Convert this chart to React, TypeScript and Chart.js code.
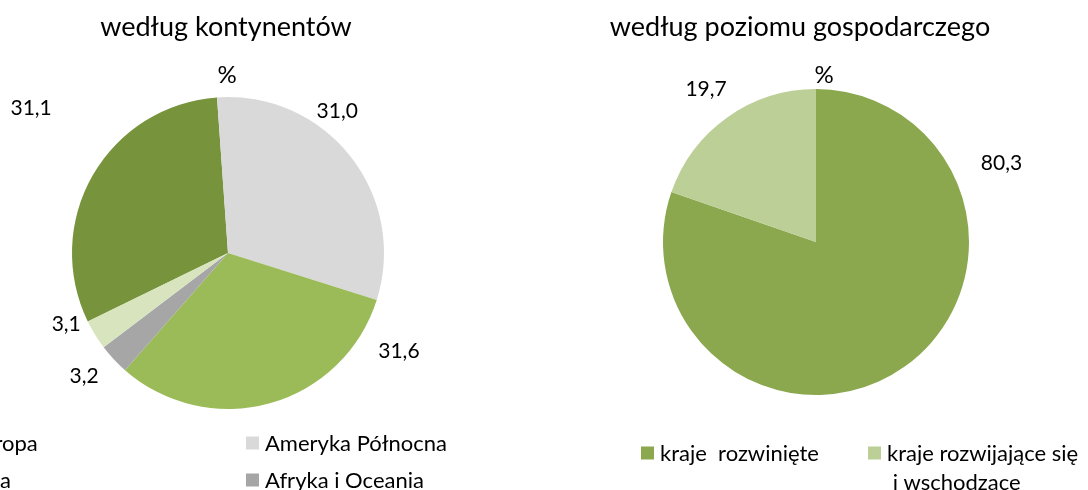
import React, { useEffect, useRef } from "react";
import { Chart, registerables } from "chart.js";

Chart.register(...registerables);

// ---- data ----
const continentLabels = ["Europa", "Ameryka Północna", "Azja", "Afryka i Oceania", "Ameryka Południowa"];
const continentValues = [31.1, 31.0, 31.6, 3.2, 3.1];
const continentColors = ["#77933C", "#D9D9D9", "#9BBB59", "#A6A6A6", "#D7E4BD"];

const economyLabels = ["kraje  rozwinięte", "kraje rozwijające się\n i wschodzace"];
const economyValues = [80.3, 19.7];
const economyColors = ["#8BA84F", "#BBCF97"];

const continentTitle = "według kontynentów";
const economyTitle = "według poziomu gospodarczego";
const unitLabel = "%";

// label placement: [angle in degrees clockwise from top, distance as fraction of radius]
const continentLabelPlacement = [
  [306.5, 1.57],
  [37.5, 1.15],
  [119.6, 1.26],
  [229.7, 1.21],
  [246.6, 1.13],
];
const economyLabelPlacement = [
  [66.7, 1.32],
  [324.5, 1.237],
];

const FONT = "Lato, 'Open Sans', sans-serif";

type OverlayCfg = {
  title: string;
  titleX: number;
  titleY: number;
  titleSize: number;
  pctX: number;
  pctY: number;
  pctSize: number;
  valueSize: number;
  placement: number[][];
  legendCols: number[];
  legendRows: number[];
  legendSize: number;
  lineHeight: number;
  box: number;
};

function fmt(v: number) {
  return v.toFixed(1).replace(".", ",");
}

function makeOverlay(cfg: OverlayCfg) {
  return {
    id: "overlay",
    afterDraw(chart: any) {
      const ctx: CanvasRenderingContext2D = chart.ctx;
      const meta = chart.getDatasetMeta(0);
      const arc = meta.data[0];
      const { x: cx, y: cy, outerRadius: r } = arc.getProps(["x", "y", "outerRadius"], true);
      const ds = chart.data.datasets[0];
      const labels: string[] = chart.data.labels;
      ctx.save();
      ctx.fillStyle = "#000000";
      ctx.textBaseline = "alphabetic";
      // title
      ctx.textAlign = "center";
      ctx.font = `${cfg.titleSize}px ${FONT}`;
      ctx.fillText(cfg.title, cfg.titleX, cfg.titleY);
      // unit
      ctx.font = `${cfg.pctSize}px ${FONT}`;
      ctx.fillText(unitLabel, cfg.pctX, cfg.pctY);
      // values
      ctx.font = `${cfg.valueSize}px ${FONT}`;
      ctx.textBaseline = "middle";
      (ds.data as number[]).forEach((v, i) => {
        const [ang, k] = cfg.placement[i];
        const a = (ang * Math.PI) / 180;
        const x = cx + Math.sin(a) * r * k;
        const y = cy - Math.cos(a) * r * k;
        ctx.fillText(fmt(v), x, y + 1);
      });
      // legend
      ctx.textAlign = "left";
      ctx.font = `${cfg.legendSize}px ${FONT}`;
      const nCols = cfg.legendCols.length;
      labels.forEach((lab, i) => {
        const col = i % nCols;
        const row = Math.floor(i / nCols);
        const bx = cfg.legendCols[col];
        const by = cfg.legendRows[row];
        if (by === undefined) return;
        ctx.fillStyle = (ds.backgroundColor as string[])[i];
        ctx.fillRect(bx, by - cfg.box / 2, cfg.box, cfg.box);
        ctx.fillStyle = "#000000";
        const lines = lab.split("\n");
        lines.forEach((ln, j) => {
          ctx.fillText(ln, bx + cfg.box + 6, by + 1 + j * cfg.lineHeight);
        });
      });
      ctx.restore();
    },
  };
}

function PieCanvas(props: {
  labels: string[];
  values: number[];
  colors: string[];
  rotation: number;
  width: number;
  height: number;
  left: number;
  padding: { left: number; right: number; top: number; bottom: number };
  overlay: OverlayCfg;
}) {
  const ref = useRef<HTMLCanvasElement | null>(null);
  useEffect(() => {
    if (!ref.current) return;
    const chart = new Chart(ref.current, {
      type: "pie",
      data: {
        labels: props.labels,
        datasets: [
          {
            data: props.values,
            backgroundColor: props.colors,
            borderWidth: 0,
          },
        ],
      },
      options: {
        animation: false,
        responsive: false,
        rotation: props.rotation,
        layout: { padding: props.padding },
        plugins: {
          legend: { display: false },
          tooltip: { enabled: false },
          title: { display: false },
        },
      },
      plugins: [makeOverlay(props.overlay)],
    });
    return () => chart.destroy();
  }, []);
  return (
    <canvas
      ref={ref}
      width={props.width}
      height={props.height}
      style={{
        position: "absolute",
        left: props.left,
        top: 0,
        width: props.width,
        height: props.height,
      }}
    />
  );
}

export default function App() {
  return (
    <div
      style={{
        position: "fixed",
        left: 0,
        top: 0,
        width: 1088,
        height: 490,
        overflow: "hidden",
        background: "#ffffff",
      }}
    >
      <PieCanvas
        labels={continentLabels}
        values={continentValues}
        colors={continentColors}
        rotation={-116}
        width={644}
        height={490}
        left={-100}
        padding={{ left: 172, right: 160, top: 97, bottom: 81 }}
        overlay={{
          title: continentTitle,
          titleX: 326,
          titleY: 36,
          titleSize: 27,
          pctX: 327,
          pctY: 83,
          pctSize: 24,
          valueSize: 21,
          placement: continentLabelPlacement,
          legendCols: [51, 346],
          legendRows: [443, 480, 518],
          legendSize: 22,
          lineHeight: 29,
          box: 13,
        }}
      />
      <PieCanvas
        labels={economyLabels}
        values={economyValues}
        colors={economyColors}
        rotation={0}
        width={544}
        height={490}
        left={544}
        padding={{ left: 119, right: 119, top: 89, bottom: 95 }}
        overlay={{
          title: economyTitle,
          titleX: 256,
          titleY: 36,
          titleSize: 27,
          pctX: 280,
          pctY: 83,
          pctSize: 24,
          valueSize: 21,
          placement: economyLabelPlacement,
          legendCols: [97, 324],
          legendRows: [453],
          legendSize: 22,
          lineHeight: 29,
          box: 13,
        }}
      />
    </div>
  );
}
